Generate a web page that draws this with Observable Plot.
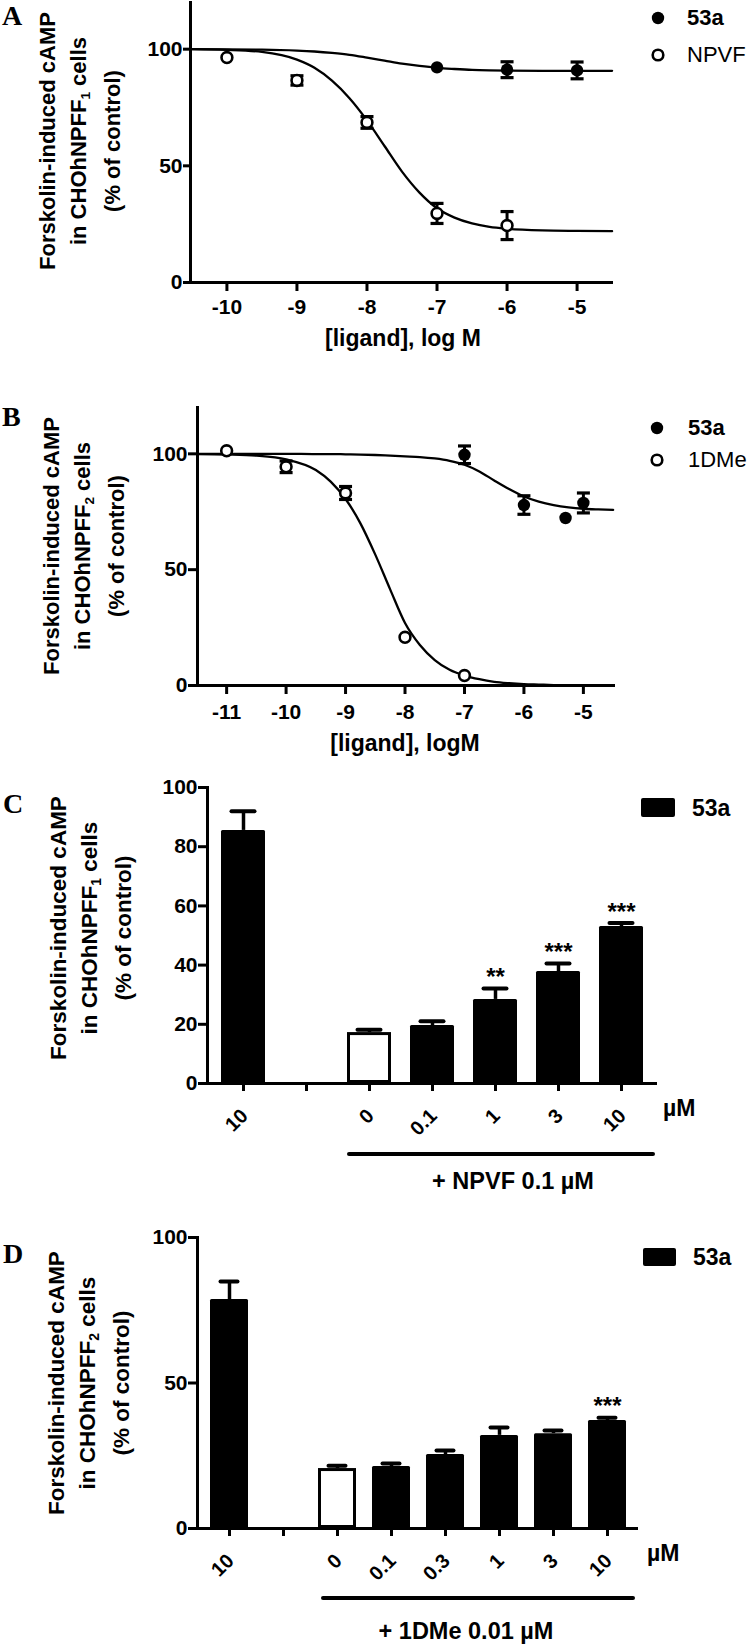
<!DOCTYPE html>
<html><head><meta charset="utf-8">
<script src="https://cdn.jsdelivr.net/npm/d3@7"></script>
<script src="https://cdn.jsdelivr.net/npm/@observablehq/plot@0.6"></script>
<style>
body{margin:0;background:#fff;}
#fig{position:relative;width:748px;height:1645px;overflow:hidden;font-family:"Liberation Sans",Arial,sans-serif;color:#000;background:#fff;}
.lab{position:absolute;white-space:nowrap;line-height:1;}
.ylab{position:absolute;font-weight:bold;text-align:center;line-height:31px;white-space:nowrap;transform:translate(-50%,-50%) rotate(-90deg);}
.letter{position:absolute;font-family:"Liberation Serif","Times New Roman",serif;font-weight:bold;font-size:28px;line-height:1.15;}
.sub{font-size:0.62em;position:relative;top:0.3em;}
</style></head><body><div id="fig"></div>
<script>
// ---------------- Panel A data ----------------
const aX53a = [-7, -6, -5];
const aY53a = [92.2, 91.2, 90.9];
const aE53a = [0, 3.4, 3.6];
const aXNPVF = [-10, -9, -8, -7, -6];
const aYNPVF = [96.4, 86.6, 68.6, 29.6, 24.4];
const aENPVF = [0, 2.0, 2.5, 4.3, 6.0];
const aCurveX = [-10.5, -10, -9.5, -9, -8.75, -8.5, -8.25, -8, -7.75, -7.5, -7.25, -7, -6.75, -6.5, -6.25, -6, -5.5, -5, -4.5];
const aCurve53a = [100, 99.9, 99.8, 99.4, 99.0, 98.4, 97.6, 96.4, 95.1, 93.8, 92.8, 92.0, 91.5, 91.1, 90.9, 90.8, 90.7, 90.7, 90.7];
const aCurveNPVF = [100, 99.7, 98.8, 95.5, 92.0, 86.5, 79.0, 69.5, 58.5, 47.5, 38.5, 31.8, 27.8, 25.3, 23.8, 23.0, 22.3, 22.1, 22.0];
const aXTicks = [-10, -9, -8, -7, -6, -5];
const aYTicks = [0, 50, 100];

// ---------------- Panel B data ----------------
const bX53a = [-7, -6, -5.3, -5];
const bY53a = [99.6, 77.9, 72.3, 78.8];
const bE53a = [3.8, 4.0, 0, 4.3];
const bX1DMe = [-11, -10, -9, -8, -7];
const bY1DMe = [101.3, 94.4, 83.1, 20.8, 4.3];
const bE1DMe = [0, 2.5, 2.8, 0, 0];
const bCurveX = [-11.5, -11, -10.5, -10, -9.5, -9.25, -9, -8.75, -8.5, -8.25, -8, -7.75, -7.5, -7.25, -7, -6.75, -6.5, -6.25, -6, -5.75, -5.5, -5.25, -5, -4.75, -4.5];
const bCurve53a = [100, 100, 100, 100, 99.9, 99.9, 99.8, 99.7, 99.5, 99.2, 98.9, 98.6, 98.0, 97.0, 95.3, 92.4, 88.5, 84.8, 81.6, 79.4, 77.9, 76.9, 76.3, 76.0, 75.8];
const bCurve1DMe = [99.9, 99.7, 99.2, 97.6, 93.0, 88.0, 80.5, 70.0, 56.5, 41.5, 27.0, 17.5, 11.0, 6.8, 4.3, 2.7, 1.6, 1.0, 0.6, 0.4, 0.2, 0.1, 0.1, 0, 0];
const bXTicks = [-11, -10, -9, -8, -7, -6, -5];
const bYTicks = [0, 50, 100];

// ---------------- Panel C data ----------------
const cKeys = ["a10", "gap", "0", "0.1", "1", "3", "10"];
const cLabels = ["10", "", "0", "0.1", "1", "3", "10"];
const cValues = [85.5, null, 17.2, 19.6, 28.4, 37.8, 53.0];
const cErrors = [6.5, null, 1.0, 1.4, 3.7, 2.7, 1.2];
const cControl = [false, false, true, false, false, false, false];
const cStars = ["", "", "", "", "**", "***", "***"];
const cYTicks = [0, 20, 40, 60, 80, 100];

// ---------------- Panel D data ----------------
const dKeys = ["a10", "gap", "0", "0.1", "0.3", "1", "3", "10"];
const dLabels = ["10", "", "0", "0.1", "0.3", "1", "3", "10"];
const dValues = [78.7, null, 20.6, 21.3, 25.4, 32.0, 32.6, 37.1];
const dErrors = [6.2, null, 1.0, 1.0, 1.4, 2.7, 1.1, 1.0];
const dControl = [false, false, true, false, false, false, false, false];
const dStars = ["", "", "", "", "", "", "", "***"];
const dYTicks = [0, 50, 100];

// ---------------- helpers ----------------
const fig = document.getElementById("fig");
const FONT = '"Liberation Sans", Arial, sans-serif';
const baseStyle = {fontFamily: FONT, fontSize: "21px", fontWeight: "bold", color: "black", background: "transparent", overflow: "visible"};
const capSymbol = {draw(ctx, size) { const w = Math.sqrt(size / Math.PI); ctx.moveTo(-w, 0); ctx.lineTo(w, 0); }};

function place(svg, top) {
  svg.style.position = "absolute"; svg.style.left = "0px"; svg.style.top = top + "px";
  fig.appendChild(svg);
}
function label(html, x, y, {size = 23, weight = "bold", anchor = "middle"} = {}) {
  const d = document.createElement("div");
  d.className = "lab"; d.innerHTML = html;
  d.style.fontSize = size + "px"; d.style.fontWeight = weight;
  d.style.left = x + "px"; d.style.top = y + "px";
  d.style.transform = anchor === "middle" ? "translate(-50%,-50%)" : anchor === "start" ? "translate(0,-50%)" : "translate(-100%,-50%)";
  fig.appendChild(d);
}
function letter(ch, x, y) {
  const d = document.createElement("div");
  d.className = "letter"; d.textContent = ch; d.style.left = x + "px"; d.style.top = y + "px";
  fig.appendChild(d);
}
function ylab(sub, cx, cy, size) {
  const d = document.createElement("div");
  d.className = "ylab";
  d.innerHTML = `Forskolin-induced cAMP<br>in CHOhNPFF<span class="sub">${sub}</span> cells<br>(% of control)`;
  d.style.fontSize = size + "px"; d.style.left = cx + "px"; d.style.top = cy + "px";
  fig.appendChild(d);
}
function legendDot(x, y, filled) {
  const s = document.createElementNS("http://www.w3.org/2000/svg", "svg");
  s.setAttribute("width", 20); s.setAttribute("height", 20);
  s.style.position = "absolute"; s.style.left = (x - 10) + "px"; s.style.top = (y - 10) + "px";
  s.innerHTML = filled ? `<circle cx="10" cy="10" r="6.2" fill="black"/>` : `<circle cx="10" cy="10" r="5.3" fill="white" stroke="black" stroke-width="2.6"/>`;
  fig.appendChild(s);
}
function legendRect(x, y, w, h) {
  const d = document.createElement("div");
  d.style.position = "absolute"; d.style.left = x + "px"; d.style.top = y + "px";
  d.style.width = w + "px"; d.style.height = h + "px"; d.style.background = "black"; d.style.borderRadius = "2px";
  fig.appendChild(d);
}
function hline(x1, x2, y, t) {
  const d = document.createElement("div");
  d.style.position = "absolute"; d.style.left = x1 + "px"; d.style.top = (y - t / 2) + "px";
  d.style.width = (x2 - x1) + "px"; d.style.height = t + "px"; d.style.background = "black"; d.style.borderRadius = "2px";
  fig.appendChild(d);
}
function pts(X, Y, E) { return X.map((x, i) => ({x, y: Y[i], e: E ? E[i] : 0})); }

function curvePanel({height, mt, mb, ml, mr, xdom, xticks, yticks, s1, s2, c1, c2, xpad, ytick}) {
  const err = [...s1, ...s2].filter(d => d.e > 0);
  return Plot.plot({
    width: 748, height, marginTop: mt, marginBottom: mb, marginLeft: ml, marginRight: mr,
    x: {domain: xdom, axis: null}, y: {domain: [0, 120], axis: null},
    style: baseStyle,
    marks: [
      Plot.frame({anchor: "left", strokeWidth: 3, strokeLinecap: "square"}),
      Plot.ruleY([0], {strokeWidth: 3}),
      Plot.axisY({ticks: yticks, tickSize: ytick, tickPadding: 1, strokeWidth: 3, fontSize: 21, fontWeight: "bold", label: null, tickFormat: d => String(d)}),
      Plot.axisX({ticks: xticks, tickSize: 9, tickPadding: xpad, strokeWidth: 3, fontSize: 21, fontWeight: "bold", label: null, tickFormat: d => String(d)}),
      Plot.line(c1, {x: "x", y: "y", curve: "monotone-x", strokeWidth: 2.3}),
      Plot.line(c2, {x: "x", y: "y", curve: "monotone-x", strokeWidth: 2.3}),
      Plot.ruleX(err, {x: "x", y1: d => d.y - d.e, y2: d => d.y + d.e, strokeWidth: 3}),
      Plot.dot(err, {x: "x", y: d => d.y + d.e, symbol: capSymbol, r: 6.5, fill: "none", stroke: "black", strokeWidth: 3.2}),
      Plot.dot(err, {x: "x", y: d => d.y - d.e, symbol: capSymbol, r: 6.5, fill: "none", stroke: "black", strokeWidth: 3.2}),
      Plot.dot(s1, {x: "x", y: "y", r: 6.2, fill: "black"}),
      Plot.dot(s2, {x: "x", y: "y", r: 5.4, fill: "white", stroke: "black", strokeWidth: 2.6})
    ]
  });
}

function barPanel({height, mt, mb, ml, mr, keys, labels, values, errors, control, stars, yticks, po, ytick}) {
  const data = keys.map((k, i) => ({key: k, label: labels[i], value: values[i], err: errors[i], ctrl: control[i], star: stars[i]}));
  const bars = data.filter(d => d.value != null);
  return Plot.plot({
    width: 748, height, marginTop: mt, marginBottom: mb, marginLeft: ml, marginRight: mr,
    x: {type: "band", domain: keys, paddingInner: 0.3, paddingOuter: po, axis: null},
    y: {domain: [0, 100], axis: null},
    style: baseStyle,
    marks: [
      Plot.ruleX(bars, {x: "key", y1: "value", y2: d => d.value + d.err, strokeWidth: 3.5}),
      Plot.tickY(bars, {x: "key", y: d => d.value + d.err, strokeWidth: 4, insetLeft: 10.5, insetRight: 10.5, strokeLinecap: "round"}),
      Plot.barY(bars.filter(d => !d.ctrl), {x: "key", y: "value", fill: "black", rx: 1.5}),
      Plot.barY(bars.filter(d => d.ctrl), {x: "key", y: "value", fill: "white", stroke: "black", strokeWidth: 3, inset: 1.5}),
      Plot.text(bars.filter(d => d.star), {x: "key", y: d => d.value + d.err, text: "star", dy: -11, fontSize: 24, fontWeight: "bold"}),
      Plot.frame({anchor: "left", strokeWidth: 3, strokeLinecap: "square"}),
      Plot.ruleY([0], {strokeWidth: 3}),
      Plot.axisY({ticks: yticks, tickSize: ytick, tickPadding: 1, strokeWidth: 3, fontSize: 21, fontWeight: "bold", label: null, tickFormat: d => String(d)}),
      Plot.axisX({tickSize: 8, strokeWidth: 3, label: null, tickFormat: () => ""}),
      Plot.text(data, {x: "key", text: "label", frameAnchor: "bottom", rotate: -45, textAnchor: "end", lineAnchor: "middle", dx: 1, dy: 29, fontSize: 20, fontWeight: "bold"})
    ]
  });
}

// ---------------- Panel A ----------------
const plotA = curvePanel({
  height: 370, mt: 2, mb: 88, ml: 190, mr: 135, xdom: [-10.52, -4.48], xticks: aXTicks, yticks: aYTicks, xpad: 8, ytick: 7,
  s1: pts(aX53a, aY53a, aE53a), s2: pts(aXNPVF, aYNPVF, aENPVF),
  c1: pts(aCurveX, aCurve53a), c2: pts(aCurveX, aCurveNPVF)
});
place(plotA, 0);
letter("A", 2, 0);
ylab("1", 80, 141, 22);
label("[ligand], log M", 403, 338, {size: 23});
legendDot(658, 18, true); label("53a", 687, 18, {size: 22, anchor: "start"});
legendDot(658, 55, false); label("NPVF", 687, 55, {size: 22, weight: "normal", anchor: "start"});

// ---------------- Panel B ----------------
const plotB = curvePanel({
  height: 400, mt: 37, mb: 85, ml: 197, mr: 133, xdom: [-11.49, -4.46], xticks: bXTicks, yticks: bYTicks, xpad: 10, ytick: 9,
  s1: pts(bX53a, bY53a, bE53a), s2: pts(bX1DMe, bY1DMe, bE1DMe),
  c1: pts(bCurveX, bCurve53a), c2: pts(bCurveX, bCurve1DMe)
});
place(plotB, 370);
letter("B", 2, 401);
ylab("2", 84, 546, 22);
label("[ligand], logM", 405, 743, {size: 23});
legendDot(657, 428, true); label("53a", 688, 428, {size: 22, anchor: "start"});
legendDot(657, 460, false); label("1DMe", 688, 460, {size: 22, weight: "normal", anchor: "start"});

// ---------------- Panel C ----------------
const plotC = barPanel({height: 450, mt: 17, mb: 137, ml: 207, mr: 91, keys: cKeys, labels: cLabels, values: cValues, errors: cErrors, control: cControl, stars: cStars, yticks: cYTicks, po: 0.176, ytick: 9});
place(plotC, 770);
letter("C", 3, 788);
ylab("1", 91, 928, 22.5);
legendRect(641, 798, 34, 19); label("53a", 692, 808, {size: 23, anchor: "start"});
label("µM", 663, 1108, {size: 23, anchor: "start"});
{
  const sx = plotC.scale("x");
  hline(sx.apply("0"), 748 - 91 - 2, 1154, 4.5);
  label("+ NPVF 0.1 µM", 513, 1182, {size: 23.5});
}

// ---------------- Panel D ----------------
const plotD = barPanel({height: 425, mt: 17, mb: 117, ml: 197, mr: 110, keys: dKeys, labels: dLabels, values: dValues, errors: dErrors, control: dControl, stars: dStars, yticks: dYTicks, po: 0.18, ytick: 9});
place(plotD, 1220);
letter("D", 3, 1238);
ylab("2", 89, 1383, 22.5);
legendRect(643, 1248, 33, 18); label("53a", 693, 1257, {size: 23, anchor: "start"});
label("µM", 647, 1553, {size: 23, anchor: "start"});
{
  const sx = plotD.scale("x");
  hline(sx.apply("0") + 3, 748 - 110 - 3, 1598, 4.5);
  label("+ 1DMe 0.01 µM", 466, 1632, {size: 23.5});
}
</script></body></html>
